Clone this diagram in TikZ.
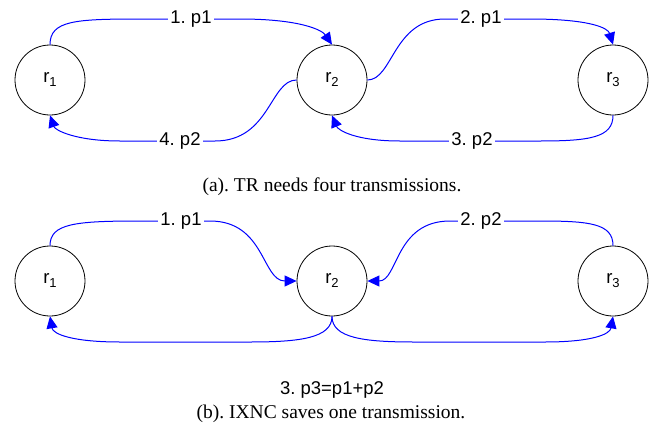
\documentclass[tikz,border=0pt]{standalone}
\usepackage{fontspec}
\setmainfont{Liberation Serif}
\newfontfamily\lblfont{Liberation Sans}
\usetikzlibrary{arrows.meta}
\frenchspacing
\tikzset{
  router/.style={circle, draw=black, line width=0.8pt, minimum size=70pt, inner sep=0pt,
    font=\lblfont\fontsize{18.5}{20}\selectfont},
  edge/.style={draw=blue, line width=1pt, -{Triangle[length=12pt,width=11pt]}},
  lbl/.style={fill=white, inner sep=2pt, font=\lblfont\fontsize{18.5}{20}\selectfont},
  caption/.style={inner sep=0pt, font=\fontsize{19.5}{22}\selectfont}
}
\newcommand{\rsub}[1]{r\raisebox{-4pt}{\fontsize{13}{14}\selectfont #1}}
\begin{document}
\begin{tikzpicture}[x=1pt,y=-1pt]
\useasboundingbox (0,0) rectangle (656,434);
% (a)
\node[router] (a1) at (50,80) {\rsub{1}};
\node[router] (a2) at (332,80) {\rsub{2}};
\node[router] (a3) at (613,80) {\rsub{3}};
\path[edge] (a1.north) .. controls +(0,-24) and (75,19) .. (140,19) -- (191,19) node[lbl] {1. p1} -- (240,19) .. controls (300,19) and (322,30) .. (a2.north);
\path[edge] (a2.east) .. controls (393,80) and (393,19) .. (445,19) -- (481,19) node[lbl] {2. p1} -- (530,19) .. controls (590,19) and (608,28) .. (a3.north);
\path[edge] (a3.south) .. controls +(0,22) and (590,141) .. (540,141) -- (472,141) node[lbl] {3. p2} -- (400,141) .. controls (355,141) and (338,130) .. (a2.south);
\path[edge] (a2.west) .. controls (270,80) and (270,141) .. (215,141) -- (180,141) node[lbl] {4. p2} -- (120,141) .. controls (75,141) and (55,130) .. (a1.south);
\node[caption] (capa) at (332,187) {(a). TR needs four transmissions.};
% (b)
\node[router] (b1) at (50,281) {\rsub{1}};
\node[router] (b2) at (332,281) {\rsub{2}};
\node[router] (b3) at (613,281) {\rsub{3}};
\path[edge] (b1.north) .. controls +(0,-22) and (75,221) .. (140,221) -- (181,221) node[lbl] {1. p1} -- (210,221) .. controls (265,221) and (262,281) .. (b2.west);
\path[edge] (b3.north) .. controls +(0,-22) and (590,221) .. (540,221) -- (481,221) node[lbl] {2. p2} -- (450,221) .. controls (395,221) and (398,281) .. (b2.east);
\path[edge] (b2.south) .. controls (332,338) and (300,342) .. (250,342) -- (120,342) .. controls (72,342) and (53,334) .. (b1.south);
\path[edge] (b2.south) .. controls (332,338) and (364,342) .. (414,342) -- (545,342) .. controls (593,342) and (610,334) .. (b3.south);
\node[lbl, fill=none] (l3) at (332,390) {3. p3=p1+p2};
\node[caption] (capb) at (331,414) {(b). IXNC saves one transmission.};
\end{tikzpicture}
\end{document}
